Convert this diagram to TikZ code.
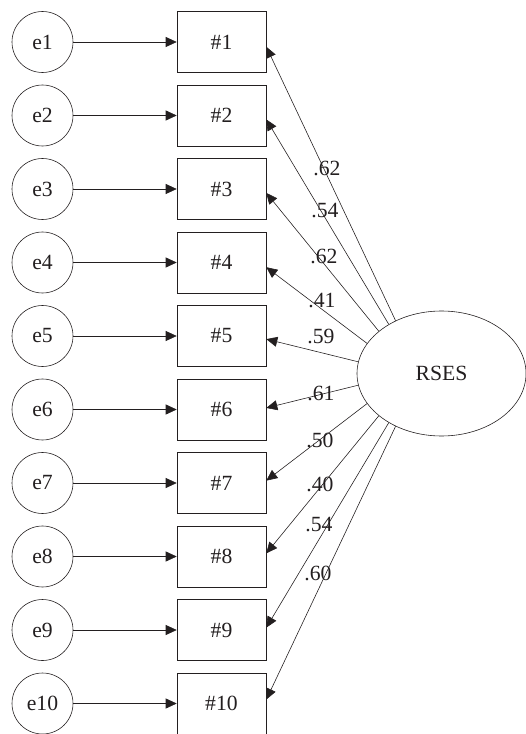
\documentclass[tikz,border=0pt]{standalone}
\usepackage{fontspec}
\setmainfont{Liberation Serif}
\usetikzlibrary{arrows.meta,shapes.geometric}
\definecolor{ink}{RGB}{35,31,32}

\begin{document}
\begin{tikzpicture}[x=0.3mm, y=-0.3mm, color=ink, line width=0.5pt,
  >={Triangle[length=3.3mm,width=3mm]},
  every node/.style={font=\fontsize{18.5}{20}\selectfont},
  err/.style={circle, draw, minimum size=18.3mm, inner sep=0pt},
  itembox/.style={rectangle, draw, minimum width=26.7mm, minimum height=18.3mm, inner sep=0pt},
  latent/.style={ellipse, draw, minimum width=50.7mm, minimum height=37.5mm, inner sep=0pt},
  coef/.style={inner sep=0pt}]
  \useasboundingbox (0,0) rectangle (526,734);
  %% Error terms
  \node[err] (e1)  at (42.5,42)    {e1};
  \node[err] (e2)  at (42.5,115.5) {e2};
  \node[err] (e3)  at (42.5,189)   {e3};
  \node[err] (e4)  at (42.5,262.5) {e4};
  \node[err] (e5)  at (42.5,336)   {e5};
  \node[err] (e6)  at (42.5,409.5) {e6};
  \node[err] (e7)  at (42.5,483)   {e7};
  \node[err] (e8)  at (42.5,556.5) {e8};
  \node[err] (e9)  at (42.5,630)   {e9};
  \node[err] (e10) at (42.5,703.5) {e10};
  %% Observed items
  \node[itembox] (b1)  at (221.5,42)    {\#1};
  \node[itembox] (b2)  at (221.5,115.5) {\#2};
  \node[itembox] (b3)  at (221.5,189)   {\#3};
  \node[itembox] (b4)  at (221.5,262.5) {\#4};
  \node[itembox] (b5)  at (221.5,336)   {\#5};
  \node[itembox] (b6)  at (221.5,409.5) {\#6};
  \node[itembox] (b7)  at (221.5,483)   {\#7};
  \node[itembox] (b8)  at (221.5,556.5) {\#8};
  \node[itembox] (b9)  at (221.5,630)   {\#9};
  \node[itembox] (b10) at (221.5,703.5) {\#10};
  %% Latent factor
  \node[latent] (rses) at (441.5,373.5) {RSES};
  %% Error paths
  \draw[->] (e1) -- (b1);
  \draw[->] (e2) -- (b2);
  \draw[->] (e3) -- (b3);
  \draw[->] (e4) -- (b4);
  \draw[->] (e5) -- (b5);
  \draw[->] (e6) -- (b6);
  \draw[->] (e7) -- (b7);
  \draw[->] (e8) -- (b8);
  \draw[->] (e9) -- (b9);
  \draw[->] (e10) -- (b10);
  %% Loadings
  \draw[->] (rses.131) -- (b1.-6);
  \draw[->] (rses.137) -- (b2.-5);
  \draw[->] (rses.146) -- (b3.-5);
  \draw[->] (rses.158) -- (b4.-6);
  \draw[->] (rses.172) -- (b5.-4);
  \draw[->] (rses.188) -- (b6.2);
  \draw[->] (rses.202) -- (b7.3);
  \draw[->] (rses.214) -- (b8.4);
  \draw[->] (rses.223) -- (b9.3);
  \draw[->] (rses.229) -- (b10.5);
  %% Loading values
  \node[coef] (l1)  at (327,168) {.62};
  \node[coef] (l2)  at (325,211) {.54};
  \node[coef] (l3)  at (324,256) {.62};
  \node[coef] (l4)  at (322,300) {.41};
  \node[coef] (l5)  at (321,336) {.59};
  \node[coef] (l6)  at (321,393) {.61};
  \node[coef] (l7)  at (320,440) {.50};
  \node[coef] (l8)  at (320,484) {.40};
  \node[coef] (l9)  at (319,525) {.54};
  \node[coef] (l10) at (318,573) {.60};
\end{tikzpicture}
\end{document}
